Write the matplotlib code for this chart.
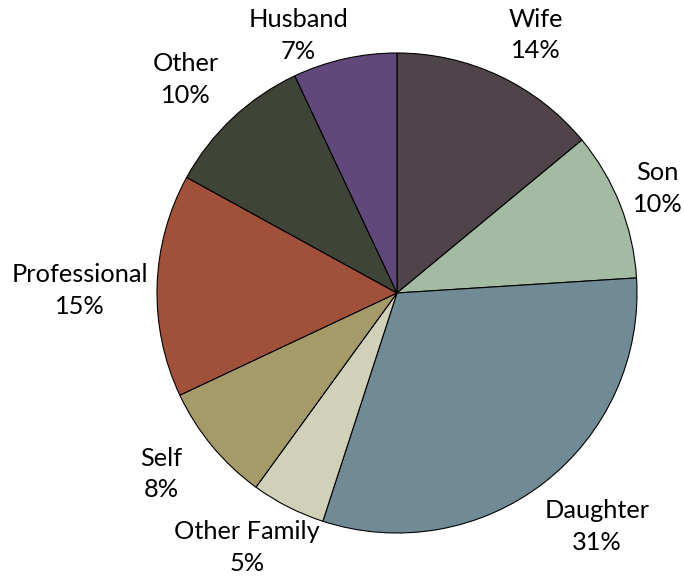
import matplotlib
matplotlib.use("Agg")
import matplotlib.pyplot as plt
import numpy as np

labels = ["Wife", "Son", "Daughter", "Other Family", "Self", "Professional", "Other", "Husband"]
shares = [14, 10, 31, 5, 8, 15, 10, 7]
colors = ["#4f444a", "#a2bba2", "#718b96", "#d1d0b8", "#a59b68", "#a1503a", "#404338", "#61487a"]

# label placement (radius factor, angle in degrees), mimicking Excel's best-fit labels
label_pos = [(1.22, 61.8), (1.17, 21.9), (1.28, -49.4), (1.23, -120.5),
             (1.24, -142.5), (1.32, 179.5), (1.25, 134.7), (1.15, 111.0)]

plt.rcParams['font.family'] = ['Lato', 'DejaVu Sans']

W, H = 684, 578
cx, cy, R = 397, 293, 240
fig = plt.figure(figsize=(W / 100, H / 100), dpi=100)
ax = fig.add_axes([0, 0, 1, 1])

wedges, _ = ax.pie(shares, colors=colors, startangle=90, counterclock=False,
                   radius=1.0, wedgeprops=dict(edgecolor='black', linewidth=0.8))

for lab, val, (rf, ang) in zip(labels, shares, label_pos):
    a = np.deg2rad(ang)
    ax.text(rf * np.cos(a), rf * np.sin(a), f"{lab}\n{val}%", ha='center', va='center',
            fontsize=18.3, linespacing=1.45, color='black')

ax.set_xlim(-cx / R, (W - cx) / R)
ax.set_ylim(-(H - cy) / R, cy / R)
ax.set_aspect('equal')
ax.axis('off')

fig.savefig("out.png", dpi=100)
